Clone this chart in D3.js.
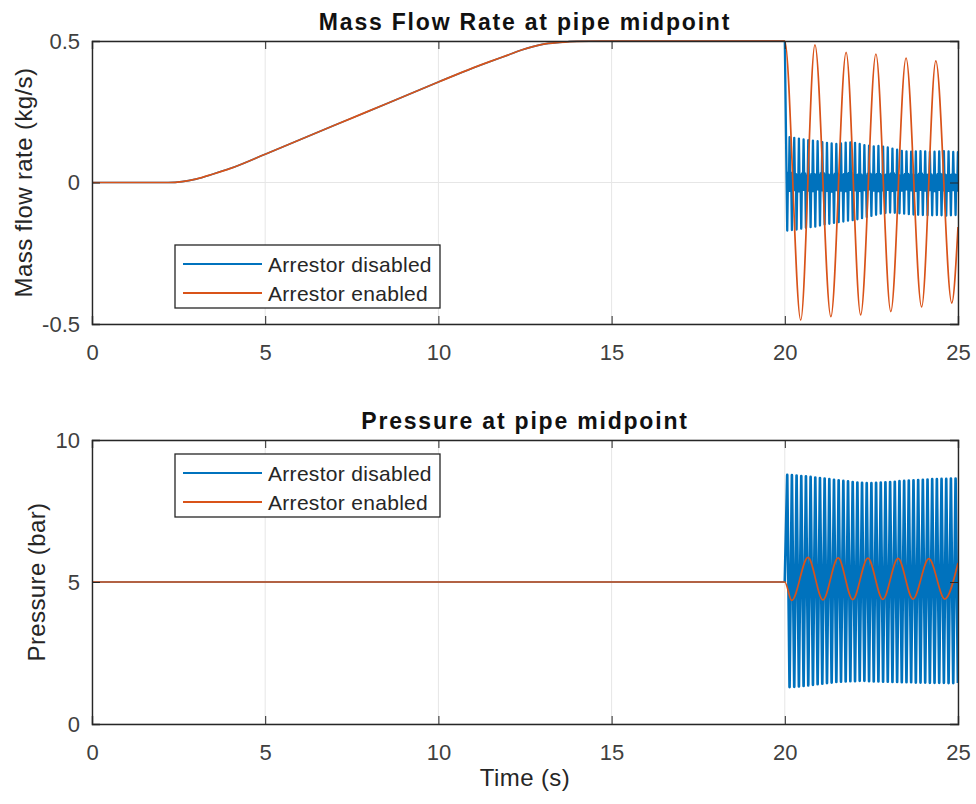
<!DOCTYPE html>
<html>
<head>
<meta charset="utf-8">
<script src="https://cdn.jsdelivr.net/npm/d3@7"></script>
<style>
  html, body { margin: 0; padding: 0; background: #fff; }
  svg { display: block; font-family: "Liberation Sans", Arial, sans-serif; }
</style>
</head>
<body>
<svg id="chart" width="976" height="804"></svg>
<script>
// ---------------- DATA ----------------
const seriesNames = ["Arrestor disabled", "Arrestor enabled"];
const xTicks = [0, 5, 10, 15, 20, 25];
const flowTicks = [-0.5, 0, 0.5];
const flowTickLabels = ["-0.5", "0", "0.5"];
const pressTicks = [0, 5, 10];
const pressTickLabels = ["0", "5", "10"];

// ramp (both series identical before t = 20 s)
const rampT = [0, 2.2, 2.6, 3.0, 3.5, 4, 5, 6, 7, 8, 9, 10, 11, 11.5, 12, 12.4, 13, 13.5, 14, 15, 20];
const rampV = [0, 0, 0.003, 0.012, 0.03, 0.05, 0.1, 0.151, 0.202, 0.253, 0.304, 0.355, 0.405, 0.428, 0.45, 0.468, 0.488, 0.495, 0.499, 0.5, 0.5];

// arrestor enabled: mass flow extrema after t = 20 s
const flowEnT = [20.46, 20.87, 21.33, 21.77, 22.19, 22.63, 23.06, 23.50, 23.95, 24.36, 24.82, 25.0];
const flowEnV = [-0.486, 0.486, -0.474, 0.46, -0.468, 0.454, -0.456, 0.44, -0.44, 0.43, -0.426, -0.157];

// arrestor enabled: pressure extrema after t = 20 s
const pressEnT = [20.0, 20.20, 20.67, 21.10, 21.54, 21.96, 22.40, 22.83, 23.27, 23.70, 24.16, 24.62, 25.0];
const pressEnV = [5.0, 4.35, 5.87, 4.37, 5.85, 4.38, 5.84, 4.39, 5.83, 4.40, 5.82, 4.40, 5.67];

// arrestor disabled: high-frequency oscillation after t = 20 s (37 cycles)
const oscStart = 20.07;
const oscPeriod = 0.135;
const flowDisPeaks = [0.160,0.158,0.155,0.152,0.150,0.148,0.146,0.143,0.140,0.138,0.136,0.138,0.141,0.142,0.140,0.136,0.132,0.130,0.128,0.129,0.127,0.124,0.120,0.116,0.112,0.110,0.109,0.110,0.111,0.110,0.108,0.109,0.110,0.111,0.110,0.108,0.107];
const flowDisTroughs = [-0.170,-0.168,-0.166,-0.163,-0.160,-0.158,-0.156,-0.152,-0.148,-0.146,-0.143,-0.140,-0.138,-0.135,-0.133,-0.130,-0.126,-0.122,-0.118,-0.114,-0.110,-0.108,-0.106,-0.107,-0.109,-0.110,-0.112,-0.113,-0.114,-0.115,-0.116,-0.116,-0.115,-0.116,-0.117,-0.116,-0.115];
const flowBandHi = [0.035,0.030,0.028,0.032,0.025,0.030,0.027,0.033,0.029,0.026,0.031,0.028,0.030,0.034,0.027,0.029,0.025,0.031,0.028,0.030,0.026,0.029,0.032,0.027,0.025,0.030,0.028,0.026,0.031,0.027,0.029,0.025,0.030,0.028,0.026,0.029,0.027];
const flowBandLo = [-0.030,-0.027,-0.032,-0.026,-0.029,-0.031,-0.025,-0.028,-0.030,-0.033,-0.027,-0.029,-0.031,-0.026,-0.028,-0.030,-0.027,-0.025,-0.029,-0.031,-0.028,-0.026,-0.030,-0.027,-0.029,-0.025,-0.028,-0.030,-0.026,-0.029,-0.027,-0.031,-0.026,-0.028,-0.030,-0.027,-0.029];
const pressDisPeaks = [8.77,8.76,8.75,8.73,8.72,8.70,8.68,8.66,8.64,8.62,8.60,8.58,8.56,8.54,8.52,8.50,8.49,8.48,8.48,8.49,8.50,8.51,8.52,8.53,8.55,8.56,8.57,8.58,8.59,8.60,8.61,8.62,8.62,8.63,8.63,8.64,8.64];
const pressDisTroughs = [1.30,1.31,1.32,1.34,1.36,1.38,1.40,1.42,1.44,1.46,1.48,1.49,1.50,1.51,1.51,1.52,1.52,1.51,1.50,1.50,1.49,1.49,1.48,1.48,1.47,1.47,1.47,1.46,1.46,1.46,1.45,1.45,1.45,1.45,1.44,1.44,1.44];

// ---------------- BUILD SERIES ----------------
const ramp = rampT.map((t, i) => [t, rampV[i]]);
const flowEnabled = ramp.concat(flowEnT.map((t, i) => [t, flowEnV[i]]));
const pressFlat = [[0, 5], [20, 5]];
const pressEnabled = [[0, 5]].concat(pressEnT.map((t, i) => [t, pressEnV[i]]));

const flowDisabledOsc = [[20, 0.5]];
flowDisPeaks.forEach((p, i) => {
  const t0 = oscStart + i * oscPeriod;
  flowDisabledOsc.push([t0, flowDisTroughs[i]]);
  flowDisabledOsc.push([t0 + oscPeriod / 6, flowBandHi[i]]);
  flowDisabledOsc.push([t0 + oscPeriod / 3, flowBandLo[i]]);
  flowDisabledOsc.push([t0 + oscPeriod / 2, p]);
  flowDisabledOsc.push([t0 + oscPeriod * 2 / 3, flowBandLo[i]]);
  flowDisabledOsc.push([t0 + oscPeriod * 5 / 6, flowBandHi[i]]);
});
const pressDisabledOsc = [[20, 5]];
pressDisPeaks.forEach((p, i) => {
  const t0 = oscStart + i * oscPeriod;
  pressDisabledOsc.push([t0, p]);
  pressDisabledOsc.push([t0 + oscPeriod / 2, pressDisTroughs[i]]);
});

// ---------------- DRAW ----------------
const svg = d3.select("#chart");
const left = 92, right = 958;
const colors = ["#0072BD", "#D95319"];
const axisColor = "#262626";
const gridColor = "#e6e6e6";
const FONT = '"Liberation Sans", Arial, sans-serif';

const x = d3.scaleLinear().domain([0, 25]).range([left, right]);

function panel(cfg) {
  const y = d3.scaleLinear().domain(cfg.ydomain).range([cfg.bottom, cfg.top]);
  const g = svg.append("g");
  const clipId = "clip" + cfg.id;
  svg.append("clipPath").attr("id", clipId).append("rect")
    .attr("x", left).attr("y", cfg.top - 1).attr("width", right - left).attr("height", cfg.bottom - cfg.top + 2);

  // grid
  g.append("g").selectAll("line").data(xTicks).join("line")
    .attr("x1", d => x(d)).attr("x2", d => x(d)).attr("y1", cfg.top).attr("y2", cfg.bottom)
    .attr("stroke", gridColor).attr("stroke-width", 1);
  g.append("g").selectAll("line").data(cfg.yticks).join("line")
    .attr("x1", left).attr("x2", right).attr("y1", d => y(d)).attr("y2", d => y(d))
    .attr("stroke", gridColor).attr("stroke-width", 1);

  // lines
  const line = d3.line().x(d => x(d[0])).y(d => y(d[1]));
  const lineSmooth = d3.line().x(d => x(d[0])).y(d => y(d[1])).curve(d3.curveMonotoneX);
  const lg = g.append("g").attr("clip-path", `url(#${clipId})`);
  lg.append("path").datum(cfg.bluePre).attr("d", lineSmooth)
    .attr("fill", "none").attr("stroke", colors[0]).attr("stroke-width", 1.6);
  lg.append("path").datum(cfg.blueOsc).attr("d", line)
    .attr("fill", "none").attr("stroke", colors[0]).attr("stroke-width", cfg.oscWidth).attr("stroke-linejoin", "round");
  lg.append("path").datum(cfg.orange).attr("d", lineSmooth)
    .attr("fill", "none").attr("stroke", colors[1]).attr("stroke-width", 1.7).attr("stroke-linejoin", "round");

  // axes
  const tickLen = 8;
  const xb = d3.axisBottom(x).tickValues(xTicks).tickSize(-tickLen).tickPadding(20).tickFormat(d3.format("d"));
  const xt = d3.axisTop(x).tickValues(xTicks).tickSize(-tickLen).tickFormat("");
  const yl = d3.axisLeft(y).tickValues(cfg.yticks).tickSize(-tickLen).tickPadding(12).tickFormat((d, i) => cfg.ylabels[i]);
  const yr = d3.axisRight(y).tickValues(cfg.yticks).tickSize(-tickLen).tickFormat("");
  [[xb, `translate(0,${cfg.bottom})`], [xt, `translate(0,${cfg.top})`], [yl, `translate(${left},0)`], [yr, `translate(${right},0)`]].forEach(([ax, tr]) => {
    const a = g.append("g").attr("transform", tr).call(ax);
    a.select(".domain").attr("stroke", axisColor).attr("stroke-width", 1.4);
    a.selectAll(".tick line").attr("stroke", axisColor).attr("stroke-width", 1);
    a.selectAll("text").attr("fill", "#404040").style("font-size", "22px").style("font-family", FONT);
  });

  // title
  g.append("text").attr("x", (left + right) / 2).attr("y", cfg.top - 11.5)
    .attr("text-anchor", "middle").attr("font-weight", "bold").attr("font-size", 23)
    .attr("letter-spacing", 1.8).attr("fill", "#111").text(cfg.title);
  // y label
  g.append("text").attr("transform", `translate(${cfg.ylabelX},${(cfg.top + cfg.bottom) / 2}) rotate(-90)`)
    .attr("text-anchor", "middle").attr("font-size", 24).attr("letter-spacing", 0.4)
    .attr("fill", "#262626").text(cfg.ylabel);

  // legend
  const L = cfg.legend;
  const lgd = g.append("g");
  lgd.append("rect").attr("x", L.x).attr("y", L.y).attr("width", 265).attr("height", 63)
    .attr("fill", "#fff").attr("stroke", axisColor).attr("stroke-width", 1.3);
  seriesNames.forEach((name, i) => {
    const yy = L.y + 19 + i * 29;
    lgd.append("line").attr("x1", L.x + 8).attr("x2", L.x + 87).attr("y1", yy).attr("y2", yy)
      .attr("stroke", colors[i]).attr("stroke-width", 1.8);
    lgd.append("text").attr("x", L.x + 93).attr("y", yy).attr("dy", "0.36em")
      .attr("font-size", 21).attr("fill", "#262626").attr("letter-spacing", 0.3).text(name);
  });
}

panel({
  id: 1, top: 41, bottom: 324, ydomain: [-0.5, 0.5], yticks: flowTicks, ylabels: flowTickLabels,
  title: "Mass Flow Rate at pipe midpoint", ylabel: "Mass flow rate (kg/s)", ylabelX: 32,
  bluePre: ramp, blueOsc: flowDisabledOsc, oscWidth: 2.3, orange: flowEnabled, legend: { x: 175, y: 245 }
});
panel({
  id: 2, top: 440, bottom: 724, ydomain: [0, 10], yticks: pressTicks, ylabels: pressTickLabels,
  title: "Pressure at pipe midpoint", ylabel: "Pressure (bar)", ylabelX: 45,
  bluePre: pressFlat, blueOsc: pressDisabledOsc, oscWidth: 2.7, orange: pressEnabled, legend: { x: 175, y: 454 }
});

svg.append("text").attr("x", (left + right) / 2).attr("y", 786).attr("text-anchor", "middle")
  .attr("font-size", 24).attr("letter-spacing", 0.4).attr("fill", "#262626").text("Time (s)");
</script>
</body>
</html>
